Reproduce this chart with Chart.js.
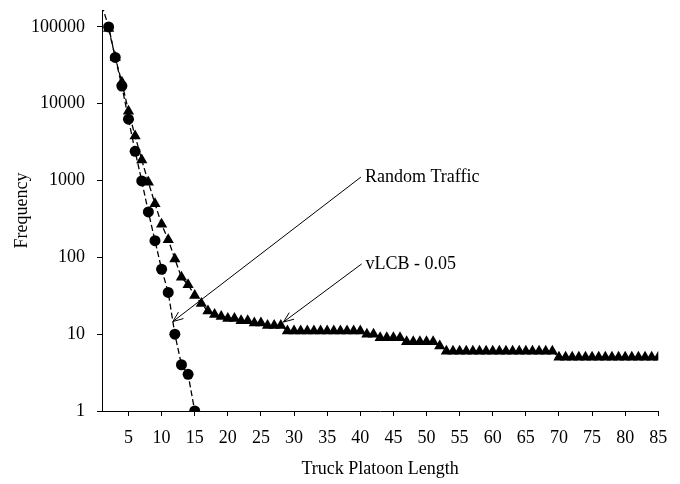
<!DOCTYPE html>
<html>
<head>
<meta charset="utf-8">
<script src="https://cdn.jsdelivr.net/npm/chart.js"></script>
<style>
  html, body { margin: 0; padding: 0; background: #fff; }
  #wrap { width: 680px; height: 484px; position: relative; }
</style>
</head>
<body>
<div id="wrap"><canvas id="platoonChart"></canvas></div>
<script>
// Platoon length (x) and how often it occurred (y), per traffic model
const randomLengths = [1, 2, 3, 4, 5, 6, 7, 8, 9, 10, 11, 12, 13, 14, 15];
const randomFreq = [190000, 100000, 40000, 17000, 6300, 2400, 990, 390, 165, 70, 35, 10, 4, 3, 1];

const vlcbLengths = [
  2, 3, 4, 5, 6, 7, 8, 9, 10, 11, 12, 13, 14, 15, 16, 17, 18, 19, 20, 21,
  22, 23, 24, 25, 26, 27, 28, 29, 30, 31, 32, 33, 34, 35, 36, 37, 38, 39, 40, 41,
  42, 43, 44, 45, 46, 47, 48, 49, 50, 51, 52, 53, 54, 55, 56, 57, 58, 59, 60, 61,
  62, 63, 64, 65, 66, 67, 68, 69, 70, 71, 72, 73, 74, 75, 76, 77, 78, 79, 80, 81,
  82, 83, 84, 85
];
const vlcbFreq = [
  95000, 40000, 19000, 8000, 3800, 1850, 950, 500, 270, 170, 95, 55, 44, 32, 25, 20, 18, 17, 16, 16,
  15, 15, 14, 14, 13, 13, 13, 11, 11, 11, 11, 11, 11, 11, 11, 11, 11, 11, 11, 10,
  10, 9, 9, 9, 9, 8, 8, 8, 8, 8, 7, 6, 6, 6, 6, 6, 6, 6, 6, 6,
  6, 6, 6, 6, 6, 6, 6, 6, 5, 5, 5, 5, 5, 5, 5, 5, 5, 5, 5, 5,
  5, 5, 5, 5
];

const xTicks = [5, 10, 15, 20, 25, 30, 35, 40, 45, 50, 55, 60, 65, 70, 75, 80, 85];
const yTicks = [1, 10, 100, 1000, 10000, 100000];
const yMax = 166000;

// callouts: label text, where the label sits, where the arrow points (data units)
const callouts = [
  { text: 'Random Traffic', from: { x: 40.1, y: 1110 }, to: { x: 11.7, y: 14.6 } },
  { text: 'vLCB - 0.05', from: { x: 40.2, y: 82 }, to: { x: 28.4, y: 14.4 } }
];

const FONT = "'Liberation Serif', 'Times New Roman', serif";

const toPoints = (xs, ys) => xs.map((x, i) => ({ x, y: ys[i] }));

const calloutPlugin = {
  id: 'callouts',
  afterDatasetsDraw(chart) {
    const { ctx, scales: { x, y } } = chart;
    ctx.save();
    ctx.strokeStyle = '#000';
    ctx.fillStyle = '#000';
    ctx.lineWidth = 1;
    ctx.font = '18px ' + FONT;
    ctx.textBaseline = 'middle';
    ctx.textAlign = 'left';
    callouts.forEach(c => {
      const x0 = x.getPixelForValue(c.from.x), y0 = y.getPixelForValue(c.from.y);
      const x1 = x.getPixelForValue(c.to.x), y1 = y.getPixelForValue(c.to.y);
      ctx.beginPath();
      ctx.moveTo(x0, y0);
      ctx.lineTo(x1, y1);
      // open arrow head
      const ang = Math.atan2(y0 - y1, x0 - x1);
      const len = 11, spread = 0.38;
      ctx.moveTo(x1 + len * Math.cos(ang - spread), y1 + len * Math.sin(ang - spread));
      ctx.lineTo(x1, y1);
      ctx.lineTo(x1 + len * Math.cos(ang + spread), y1 + len * Math.sin(ang + spread));
      ctx.stroke();
      ctx.fillText(c.text, x0 + 4, y0);
    });
    ctx.restore();
  }
};

const axisFont = { family: FONT, size: 18 };

new Chart(document.getElementById('platoonChart'), {
  type: 'line',
  data: {
    datasets: [
      {
        label: 'Random Traffic',
        data: toPoints(randomLengths, randomFreq),
        borderColor: '#000',
        borderWidth: 1.3,
        borderDash: [6, 3],
        pointStyle: 'circle',
        pointRadius: c => (c.raw && c.raw.y > yMax ? 0 : 5.5),
        pointBackgroundColor: '#000',
        pointBorderColor: '#000',
        pointBorderWidth: 0,
        tension: 0
      },
      {
        label: 'vLCB - 0.05',
        data: toPoints(vlcbLengths, vlcbFreq),
        borderColor: '#000',
        borderWidth: 1.3,
        borderDash: [6, 3],
        pointStyle: 'triangle',
        pointRadius: 6.5,
        pointBackgroundColor: '#000',
        pointBorderColor: '#000',
        pointBorderWidth: 0,
        tension: 0
      }
    ]
  },
  options: {
    responsive: true,
    maintainAspectRatio: false,
    animation: false,
    events: [],
    layout: { padding: { top: 10, right: 21.7, left: 0, bottom: 0 } },
    plugins: {
      legend: { display: false },
      tooltip: { enabled: false }
    },
    scales: {
      x: {
        type: 'linear',
        min: 1,
        max: 85,
        afterBuildTicks: s => { s.ticks = xTicks.map(v => ({ value: v })); },
        afterFit: s => { s.height = 73; },
        grid: { drawOnChartArea: false, drawTicks: true, tickLength: 5, color: '#000' },
        border: { color: '#000', width: 1 },
        ticks: { color: '#000', font: axisFont, padding: 11, maxRotation: 0 },
        title: { display: true, text: 'Truck Platoon Length', color: '#000', font: axisFont, padding: { top: 4, bottom: 4 } }
      },
      y: {
        type: 'logarithmic',
        min: 1,
        max: yMax,
        afterBuildTicks: s => { s.ticks = yTicks.map(v => ({ value: v })); },
        afterFit: s => {
          s.width = 102;
          // labels sit well inside the plot height, no extra room needed
          s.paddingTop = 0;
          s.paddingBottom = 0;
        },
        grid: { drawOnChartArea: false, drawTicks: true, tickLength: 5, color: '#000' },
        border: { color: '#000', width: 1 },
        ticks: { color: '#000', font: axisFont, padding: 12, callback: v => String(v) },
        title: { display: true, text: 'Frequency', color: '#000', font: axisFont, padding: { top: 11, bottom: 0 } }
      }
    }
  },
  plugins: [calloutPlugin]
});
</script>
</body>
</html>
